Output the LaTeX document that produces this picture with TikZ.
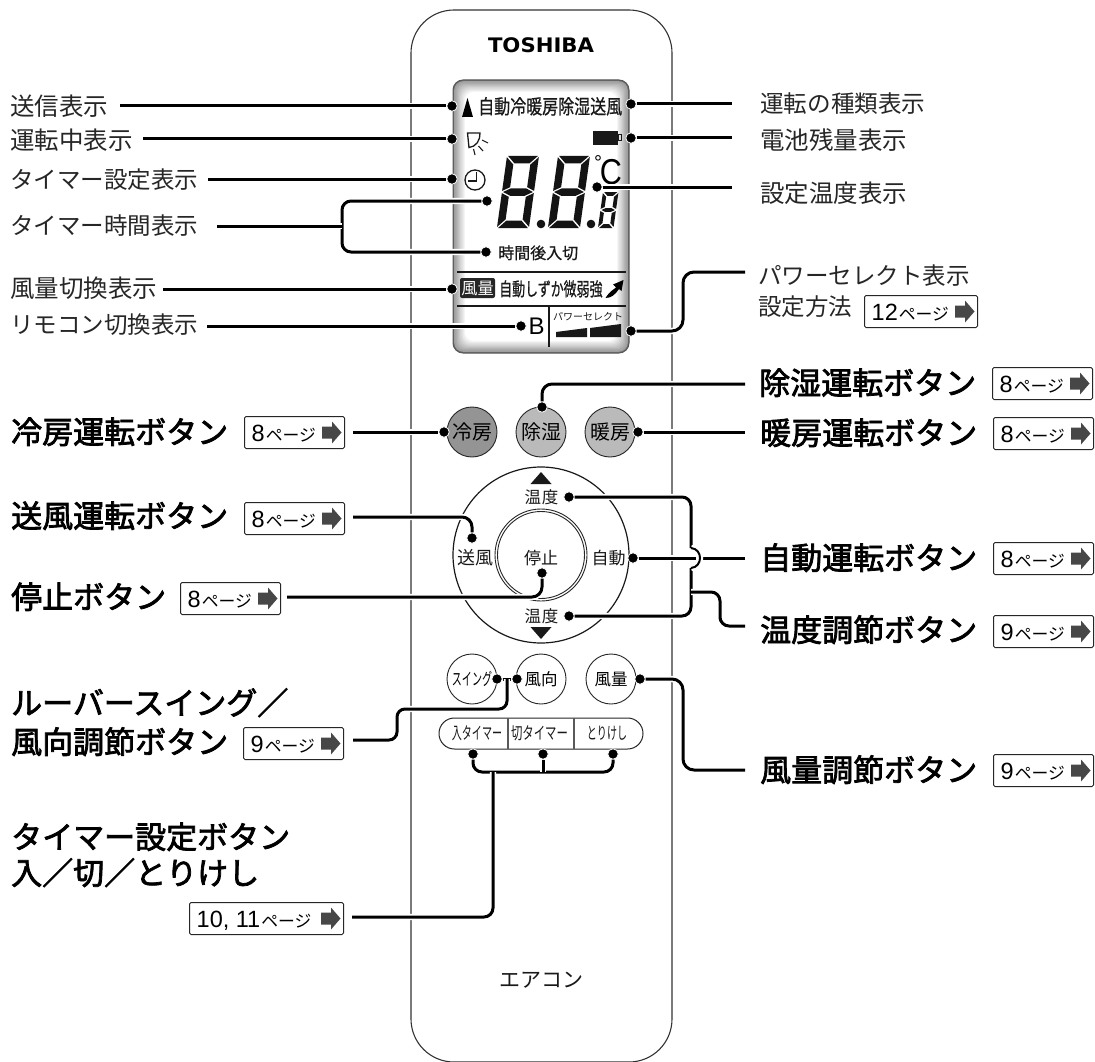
\documentclass[tikz,border=0pt]{standalone}
\usepackage{fontspec}
\usepackage{graphicx}
\setmainfont{Noto Sans CJK JP}
\newfontfamily\jpb[FakeBold=2.4]{Noto Sans CJK JP}
\newfontfamily\jpm[FakeBold=0.8]{Noto Sans CJK JP}
\newfontfamily\libsans{Liberation Sans}
\newfontfamily\logofont{DejaVu Sans}
\newcommand\fs[1]{\fontsize{#1}{#1}\selectfont\vrule height .86em depth .12em width 0pt\relax}
\newcommand\xs[2]{\scalebox{#1}[1]{#2}}
\tikzset{
  lab/.style={inner sep=0pt,anchor=west,text=black!85},
  big/.style={inner sep=0pt,anchor=west,font=\jpb},
  midtxt/.style={inner sep=0pt,text=black!90},
  leader/.style={line width=3pt,black,preaction={draw=white,line width=6.4pt}},
  dot/.style={circle,fill=black,draw=white,line width=.8pt,minimum size=10.5pt,inner sep=0pt},
  btn/.style={circle,draw=black!85,line width=.9pt,minimum size=50pt,inner sep=0pt},
  pagebox/.style={draw=black!85,line width=1pt,rounded corners=1.5pt,fill=white,inner sep=0pt,anchor=north west},
  lcdline/.style={line width=1.4pt,black!90},
}
% name, x, y, width, number
\newcommand\pagelink[5]{%
  \node[pagebox,minimum width=#4pt,minimum height=32pt] (#1) at (#2,#3) {};
  \node[inner sep=0pt,anchor=west] at ([xshift=7.5pt]#1.west) {\libsans\fs{23.5}#5\hspace{1pt}\rmfamily\fs{16.8}ページ};
  \begin{scope}[shift={(#1.east)}]
    \fill[black!72] (-23,-6) -- (-13,-6) -- (-13,-11) -- (-3.5,0) -- (-13,11) -- (-13,6) -- (-23,6) -- cycle;
  \end{scope}}
% x y w h t  (seven segment digit, all segments lit)
\newcommand\segdigit[5]{%
  \begin{scope}[cm={1,0,0.14,1,(#1,#2)},black!92]
    \pgfmathsetmacro\W{#3}\pgfmathsetmacro\H{#4}\pgfmathsetmacro\T{#5}\pgfmathsetmacro\G{1.1}
    \pgfmathsetmacro\Wi{\W-\T-\G}\pgfmathsetmacro\Wg{\W-\G}\pgfmathsetmacro\Ti{\T+\G}
    \pgfmathsetmacro\M{\H/2}\pgfmathsetmacro\Ma{\M-\T/2}\pgfmathsetmacro\Mb{\M+\T/2}
    \pgfmathsetmacro\Hi{\H-\T}\pgfmathsetmacro\Hg{\H-\G}
    \pgfmathsetmacro\Ua{\M-\G}\pgfmathsetmacro\Ub{\Ma-\G}\pgfmathsetmacro\La{\M+\G}\pgfmathsetmacro\Lb{\Mb+\G}
    \pgfmathsetmacro\Ri{\W-\T}
    \fill (\G,0) -- (\Wg,0) -- (\Wi,\T) -- (\Ti,\T) -- cycle;
    \fill (\G,\H) -- (\Wg,\H) -- (\Wi,\Hi) -- (\Ti,\Hi) -- cycle;
    \fill (\G,\M) -- (\Ti,\Ma) -- (\Wi,\Ma) -- (\Wg,\M) -- (\Wi,\Mb) -- (\Ti,\Mb) -- cycle;
    \fill (0,\G) -- (\T,\Ti) -- (\T,\Ub) -- (0,\Ua) -- cycle;
    \fill (0,\Hg) -- (\T,{\Hi-\G}) -- (\T,\Lb) -- (0,\La) -- cycle;
    \fill (\W,\G) -- (\Ri,\Ti) -- (\Ri,\Ub) -- (\W,\Ua) -- cycle;
    \fill (\W,\Hg) -- (\Ri,{\Hi-\G}) -- (\Ri,\Lb) -- (\W,\La) -- cycle;
  \end{scope}}
\begin{document}
\begin{tikzpicture}[x=1pt,y=-1pt]
\useasboundingbox (0,0) rectangle (1095,1062);
\fill[white] (0,0) rectangle (1095,1062);
% body
\draw[line width=1.1pt,black!80,rounded corners=43pt] (411,10) rectangle (672,1062);
\node[inner sep=0pt] (brand) at (541,45) {\logofont\bfseries\fontsize{20}{20}\selectfont\xs{1.06}{TOSHIBA}};
\node[midtxt] (model) at (541,980) {\fs{21}エアコン};

% LCD
\fill[black!58,rounded corners=10pt] (453,80) rectangle (629,353);
\foreach \i in {1,...,10}{
  \pgfmathsetmacro\lv{42-4.2*\i}
  \fill[black!\lv,rounded corners=9pt] ({453+\i*1.2},{80+\i*1.2}) rectangle ({629-\i*1.2},{353-\i*1.2});
}
\draw[line width=1pt,black!65,rounded corners=10pt] (453,80) rectangle (629,353);
\fill[black] (462,117) -- (467.5,98) -- (473,117) -- cycle;
\node[midtxt,anchor=west,font=\jpm] (modes) at (478,106.5) {\fs{20}\xs{.8}{自動冷暖房除湿送風}};
% running icon
\draw[line width=1.3pt,black!90] (467.5,133) -- (480,133) .. controls (480.5,140) and (476,147) .. (469,147.5) -- cycle;
\draw[line width=1.1pt,black!90] (482,140) -- (488,143) (478.5,146) -- (483,151) (473.5,149) -- (475,155);
% clock
\draw[line width=1.3pt,black!90] (475,180) circle (10);
\draw[line width=1.3pt,black!90] (476.5,172) -- (476.5,181) -- (468,181);
% battery
\fill[black!90] (593,131) rectangle (617.5,145);
\draw[line width=1pt,black!90] (618,135) rectangle (621.5,141);
% digits
\segdigit{507}{156}{32}{72}{7.5}
\segdigit{558}{156}{32}{72}{7.5}
\segdigit{603}{192}{15.5}{36}{3.8}
\fill[black!92] (541,224) circle (4.3) (591,224) circle (4.3);
\node[inner sep=0pt] (degsign) at (598,163) {\libsans\fontsize{20}{20}\selectfont °};
\node[inner sep=0pt] (degc) at (611,172) {\libsans\fontsize{36}{36}\selectfont\xs{.85}{C}};
\node[midtxt,anchor=west,font=\jpm] (hours) at (498,253) {\fs{16}時間後入切};
\draw[lcdline] (457,272) -- (626,272);
\draw[lcdline] (457,306) -- (626,306);
\draw[lcdline] (549,306) -- (549,347);
\node[fill=black!85,rounded corners=2pt,inner sep=0pt,minimum width=35pt,minimum height=20pt] (fanbadge) at (477.5,288) {\color{white}\fs{16.5}\xs{.98}{風量}};
\node[midtxt,anchor=west,font=\jpm] (fans) at (499,289) {\fs{18.5}\xs{.7}{自動しずか微弱強}};
\fill[black] (605.5,298) .. controls (610,291) and (613,290) .. (616,287.5) -- (613,284.5) -- (623.5,280) -- (621.5,291) -- (619,289) .. controls (615,295) and (611,298) .. (605.5,298) -- cycle;
\node[inner sep=0pt] (remote) at (536.5,326) {\libsans\fontsize{24}{24}\selectfont B};
\node[midtxt] (pwtxt) at (588,317) {\fs{10}パワーセレクト};
\fill[black!90] (556,332) -- (587,328) -- (587,337) -- (556,337) -- cycle;
\fill[black!90] (590,328) -- (621,324) -- (621,337) -- (590,337) -- cycle;

% buttons
\node[btn,fill=black!42] (bcool) at (472,432) {\fs{20}冷房};
\node[btn,fill=black!27] (bdry)  at (541,432) {\fs{20}除湿};
\node[btn,fill=black!27] (bheat) at (610,432) {\fs{20}暖房};
\draw[line width=1.2pt,black!90] (541,555) circle (88);
\draw[line width=.9pt,black!85] (541,555) circle (46) (541,555) circle (43.5);
\fill[black!90] (530.5,484) -- (541,472) -- (551.5,484) -- cycle;
\fill[black!90] (530.5,627) -- (551.5,627) -- (541,639) -- cycle;
\node[midtxt] (tup) at (541.5,497) {\fs{16.5}温\hspace{1pt}度};
\node[midtxt] (tdn) at (541.5,616) {\fs{16.5}温\hspace{1pt}度};
\node[midtxt] (bfan) at (475,558) {\fs{18}送風};
\node[midtxt] (bstop) at (541,558) {\fs{17}停止};
\node[midtxt] (bauto) at (608.5,558) {\fs{17}自動};
\node[btn] (bswing) at (472,679) {\fs{17}\xs{.59}{スイング}};
\node[btn] (bdir) at (541,679) {\fs{16.5}風向};
\node[btn] (bvol) at (611,679) {\fs{16.5}風量};
\draw[line width=1pt,black!85,rounded corners=15.4pt] (439,718) rectangle (643,749);
\draw[line width=1.4pt,black!65] (508,718) -- (508,749) (574,718) -- (574,749);
\node[midtxt] (ton) at (477,733.5) {\fs{17}\xs{.59}{入タイマー}};
\node[midtxt] (toff) at (539.5,733.5) {\fs{17}\xs{.67}{切タイマー}};
\node[midtxt] (tclr) at (607,733.5) {\fs{17}\xs{.59}{とりけし}};

% left labels
\node[lab] (l1) at (10,106) {\fs{24.5}送信表示};
\node[lab] (l2) at (10,140) {\fs{24.5}運転中表示};
\node[lab] (l3) at (10,180) {\fs{23.5}タイマー設定表示};
\node[lab] (l4) at (10,226) {\fs{23.5}タイマー時間表示};
\node[lab] (l5) at (10,288) {\fs{24.5}風量切換表示};
\node[lab] (l6) at (10,325) {\fs{23.5}リモコン切換表示};
% right labels
\node[lab] (r1) at (760,104) {\fs{23.6}運転の種類表示};
\node[lab] (r2) at (760,140) {\fs{24.5}電池残量表示};
\node[lab] (r3) at (760,193) {\fs{24.5}設定温度表示};
\node[lab] (r4) at (758,276) {\fs{23.5}パワーセレクト表示};
\node[lab] (r5) at (758,307) {\fs{23.5}設定方法};
% big labels
\node[big] (bl1) at (11,432) {\fs{31}冷房運転ボタン};
\node[big] (bl2) at (11,516) {\fs{31}送風運転ボタン};
\node[big] (bl3) at (11,597) {\fs{31}停止ボタン};
\node[big] (bl4) at (11,703) {\fs{31}ルーバースイング／};
\node[big] (bl5) at (11,742) {\fs{31}風向調節ボタン};
\node[big] (bl6) at (11,837) {\fs{31}タイマー設定ボタン};
\node[big] (bl7) at (11,873) {\fs{31}入／切／とりけし};
\node[big] (br1) at (759,383) {\fs{31}除湿運転ボタン};
\node[big] (br2) at (760,433) {\fs{31}暖房運転ボタン};
\node[big] (br3) at (760,558) {\fs{31}自動運転ボタン};
\node[big] (br4) at (760,630) {\fs{31}温度調節ボタン};
\node[big] (br5) at (760,770) {\fs{31}風量調節ボタン};
% page links
\pagelink{p1}{244}{416}{100}{8}
\pagelink{p2}{244}{502}{100}{8}
\pagelink{p3}{180}{582}{100}{8}
\pagelink{p4}{243}{727}{100}{9}
\pagelink{p5}{189}{902}{154}{10, 11}
\pagelink{p6}{864}{295}{113}{12}
\pagelink{p7}{992}{367}{100}{8}
\pagelink{p8}{993}{417}{100}{8}
\pagelink{p9}{993}{542}{100}{8}
\pagelink{p10}{993}{615}{100}{9}
\pagelink{p11}{993}{754}{100}{9}

% dots
\node[dot] (d1) at (452,106) {};
\node[dot] (d2) at (452,139) {};
\node[dot] (d3) at (452,179) {};
\node[dot] (d4) at (487,201) {};
\node[dot] (d5) at (486,252) {};
\node[dot] (d6) at (452,289) {};
\node[dot] (d7) at (521,326) {};
\node[dot] (d8) at (631,104) {};
\node[dot] (d9) at (631,138) {};
\node[dot] (d10) at (597,187) {};
\node[dot] (d11) at (631,331) {};
\node[dot] (d12) at (542,407) {};
\node[dot] (d13) at (444,432) {};
\node[dot] (d14) at (638,432) {};
\node[dot] (d15) at (472,538) {};
\node[dot] (d16) at (542,573) {};
\node[dot] (d17) at (569,497) {};
\node[dot] (d18) at (633,558) {};
\node[dot] (d19) at (569,616) {};
\node[dot] (d20) at (497,679) {};
\node[dot] (d21) at (517,679) {};
\node[dot] (d22) at (640,679) {};
\node[dot] (d23) at (473,754) {};
\node[dot] (d24) at (543,754) {};
\node[dot] (d25) at (613,754) {};

% free ends and bends
\coordinate (s1) at (120,106);
\coordinate (s2) at (143,139);
\coordinate (s3) at (208,179);
\coordinate (s4) at (217,226);
\coordinate (b4) at (342,226);
\coordinate (s6) at (163,289);
\coordinate (s7) at (207,326);
\coordinate (e8) at (732,104);
\coordinate (e9) at (732,138);
\coordinate (e10) at (732,187);
\coordinate (b11) at (683,300);
\coordinate (e11) at (745,272);
\coordinate (e12) at (745,384);
\coordinate (s13) at (353,432);
\coordinate (e14) at (745,432);
\coordinate (s15) at (353,517);
\coordinate (s16) at (287,597);
\coordinate (tj1) at (691,548);
\coordinate (tj2) at (691,568);
\coordinate (aj1) at (696,558);
\coordinate (aj2) at (703,558);
\coordinate (e18) at (745,558);
\coordinate (tb) at (691,592);
\coordinate (tm) at (720,610);
\coordinate (te) at (745,626);
\coordinate (sw) at (507,679);
\coordinate (swb) at (397,709);
\coordinate (sws) at (353,740);
\coordinate (e22) at (745,770);
\coordinate (b22) at (683,720);
\coordinate (tbus) at (543,772);
\coordinate (tbj) at (493,772);
\coordinate (s26) at (352,917);

% connectors
\draw[leader] (s1) -- (d1);
\draw[leader] (s2) -- (d2);
\draw[leader] (s3) -- (d3);
\draw[leader,rounded corners=9pt] (d4) -| (b4) |- (d5);
\draw[leader] (s4) -- (b4);
\draw[leader] (s6) -- (d6);
\draw[leader] (s7) -- (d7);
\draw[leader] (d8) -- (e8);
\draw[leader] (d9) -- (e9);
\draw[leader] (d10) -- (e10);
\draw[leader,rounded corners=11pt] (d11) -| (b11) |- (e11);
\draw[leader,rounded corners=10pt] (d12) |- (e12);
\draw[leader] (s13) -- (d13);
\draw[leader] (d14) -- (e14);
\draw[leader,rounded corners=10pt] (s15) -| (d15);
\draw[leader,rounded corners=10pt] (s16) -| (d16);
\draw[leader] (d18) -- (aj1);
\draw[leader] (aj2) -- (e18);
\draw[leader,rounded corners=9pt] (d17) -| (tj1);
\draw[leader,rounded corners=9pt] (tj2) |- (d19);
\draw[leader,line width=2pt] (tj1) .. controls (703,549) and (703,567) .. (tj2);
\draw[leader,rounded corners=9pt] (tb) -| (tm) |- (te);
\draw[leader] (d20) -- (d21);
\draw[leader,rounded corners=8pt] (sw) |- (swb) |- (sws);
\draw[leader,rounded corners=11pt] (d22) -| (b22) |- (e22);
\draw[leader,rounded corners=9pt] (d23) |- (tbus) -| (d25);
\draw[leader] (d24) -- (tbus);
\draw[leader,rounded corners=9pt] (tbj) |- (s26);
\end{tikzpicture}
\end{document}
